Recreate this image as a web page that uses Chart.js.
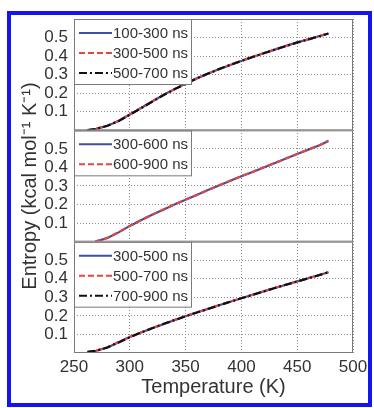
<!DOCTYPE html>
<html><head><meta charset="utf-8">
<script src="https://cdn.jsdelivr.net/npm/chart.js@4.4.1/dist/chart.umd.min.js"></script>
<style>
html,body{margin:0;padding:0;background:#fff;width:374px;height:408px;overflow:hidden}
#frame{position:absolute;left:7px;top:11px;width:357px;height:388px;border:4px solid #1414f0;}
#c{position:absolute;left:0;top:0}
</style></head><body>
<div id="frame"></div>
<canvas id="c" width="374" height="408"></canvas>
<script>
// ---- data ----
const xTicks = [250, 300, 350, 400, 450, 500];
const yTicks = [0.1, 0.2, 0.3, 0.4, 0.5];

// top panel
const tempTop = [262,270,280,290,300,310,320,330,340,350,360,370,380,390,400,410,420,430,440,450,460,470,478];
const top100_300 = [0.000,0.008,0.025,0.050,0.085,0.120,0.155,0.190,0.222,0.252,0.280,0.305,0.330,0.352,0.374,0.395,0.415,0.435,0.455,0.474,0.490,0.508,0.522];
const top300_500 = [0.000,0.009,0.026,0.051,0.086,0.121,0.156,0.190,0.221,0.251,0.279,0.305,0.329,0.352,0.375,0.396,0.416,0.436,0.455,0.473,0.491,0.508,0.521];
const top500_700 = [0.001,0.008,0.025,0.050,0.084,0.119,0.154,0.189,0.221,0.251,0.280,0.306,0.330,0.353,0.374,0.395,0.415,0.435,0.454,0.473,0.490,0.507,0.522];

// middle panel
const tempMid = [269,280,290,300,310,320,330,340,350,360,370,380,390,400,410,420,430,440,450,460,470,478];
const mid300_600 = [0.000,0.020,0.050,0.085,0.115,0.145,0.172,0.200,0.226,0.252,0.278,0.303,0.328,0.352,0.376,0.400,0.424,0.448,0.472,0.496,0.520,0.543];
const mid600_900 = [0.000,0.021,0.051,0.085,0.116,0.145,0.173,0.200,0.227,0.252,0.278,0.304,0.328,0.353,0.376,0.401,0.424,0.448,0.472,0.497,0.520,0.544];

// bottom panel
const tempBot = [262,270,280,290,300,310,320,330,340,350,360,370,380,390,400,410,420,430,440,450,460,470,478];
const bot300_500 = [0.005,0.012,0.030,0.058,0.086,0.110,0.133,0.155,0.177,0.198,0.218,0.238,0.257,0.276,0.295,0.314,0.332,0.350,0.368,0.386,0.403,0.420,0.435];
const bot500_700 = [0.004,0.013,0.031,0.059,0.087,0.111,0.134,0.156,0.178,0.199,0.219,0.238,0.258,0.277,0.296,0.314,0.333,0.351,0.369,0.386,0.404,0.421,0.436];
const bot700_900 = [0.006,0.012,0.030,0.057,0.085,0.110,0.133,0.156,0.177,0.198,0.218,0.237,0.257,0.276,0.295,0.313,0.332,0.350,0.368,0.385,0.403,0.420,0.435];

const labelsTop = ['100-300 ns', '300-500 ns', '500-700 ns'];
const labelsMid = ['300-600 ns', '600-900 ns'];
const labelsBot = ['300-500 ns', '500-700 ns', '700-900 ns'];

// ---- styles ----
const BLUE = '#3d4fa6', RED = '#e5453f', BLACK = '#111111';
const styles = [
  {color: BLUE, dash: []},
  {color: RED, dash: [6, 3]},
  {color: BLACK, dash: [8, 3, 2, 3]}
];
const FONT = '"Liberation Sans", Arial, Helvetica, sans-serif';
const GRID = '#8c8c8c';

function ds(label, temps, vals, axis, styleIdx, order) {
  const st = styles[styleIdx];
  return {
    label, yAxisID: axis,
    data: temps.map((t, i) => ({x: t, y: vals[i]})),
    borderColor: st.color, borderDash: st.dash, borderWidth: 2.2,
    pointRadius: 0, fill: false, tension: 0, order
  };
}

const datasets = [
  ds(labelsTop[0], tempTop, top100_300, 'yTop', 0, 2),
  ds(labelsTop[1], tempTop, top300_500, 'yTop', 1, 1),
  ds(labelsTop[2], tempTop, top500_700, 'yTop', 2, 0),
  ds(labelsMid[0], tempMid, mid300_600, 'yMid', 0, 1),
  ds(labelsMid[1], tempMid, mid600_900, 'yMid', 1, 0),
  ds(labelsBot[0], tempBot, bot300_500, 'yBot', 0, 2),
  ds(labelsBot[1], tempBot, bot500_700, 'yBot', 1, 1),
  ds(labelsBot[2], tempBot, bot700_900, 'yBot', 2, 0)
];

const panelLegends = [
  {axis: 'yTop', labels: labelsTop},
  {axis: 'yMid', labels: labelsMid},
  {axis: 'yBot', labels: labelsBot}
];

const panelsPlugin = {
  id: 'panels',
  afterDraw(chart) {
    const ctx = chart.ctx, ca = chart.chartArea;
    panelLegends.forEach(p => {
      const s = chart.scales[p.axis];
      const n = p.labels.length;
      const bx = ca.left, by = s.top, bw = 117, bh = 25 + 20 * (n - 1);
      ctx.save();
      ctx.fillStyle = '#ffffff';
      ctx.fillRect(bx, by, bw, bh);
      ctx.strokeStyle = '#7a7a7a'; ctx.lineWidth = 1;
      ctx.strokeRect(bx + 0.5, by + 0.5, bw, bh);
      ctx.font = '15px ' + FONT;
      ctx.textBaseline = 'middle'; ctx.textAlign = 'left';
      p.labels.forEach((lab, i) => {
        const y = by + 14 + 20 * i;
        const st = styles[i];
        ctx.beginPath();
        ctx.setLineDash(st.dash);
        ctx.strokeStyle = st.color; ctx.lineWidth = 2;
        ctx.moveTo(bx + 5, y); ctx.lineTo(bx + 38, y);
        ctx.stroke();
        ctx.setLineDash([]);
        ctx.fillStyle = '#333333';
        ctx.fillText(lab, bx + 39, y + 1);
      });
      ctx.strokeStyle = '#7a7a7a'; ctx.lineWidth = 1;
      ctx.strokeRect(ca.left + 0.5, s.top + 0.5, ca.right - ca.left - 1, s.bottom - s.top - 1);
      ctx.restore();
    });
  }
};

function yScale(withTitle) {
  return {
    type: 'linear', position: 'left', stack: 'panels', stackWeight: 1,
    min: 0, max: 0.6,
    afterBuildTicks: sc => { sc.ticks = yTicks.map(v => ({value: v})); },
    afterFit: sc => { sc.width = 74; },
    grid: {color: GRID, lineWidth: 1, drawTicks: false},
    border: {display: false, dash: [1, 2]},
    ticks: {padding: 6, color: '#333', autoSkip: false, font: {family: FONT, size: 17},
            callback: v => String(v)},
    title: {display: withTitle, text: 'Entropy (kcal mol\u207B\u00B9 K\u207B\u00B9)',
            color: '#333', font: {family: FONT, size: 20}, padding: {top: 18, bottom: 0}}
  };
}

new Chart(document.getElementById('c'), {
  type: 'line',
  data: {datasets},
  options: {
    responsive: false, animation: false, devicePixelRatio: 1,
    layout: {padding: {top: 19, right: 21, left: 0, bottom: 0}},
    plugins: {legend: {display: false}, tooltip: {enabled: false}},
    scales: {
      x: {
        type: 'linear', min: 250, max: 500,
        afterBuildTicks: sc => { sc.ticks = xTicks.map(v => ({value: v})); },
        afterFit: sc => { sc.height = 55; },
        grid: {color: GRID, lineWidth: 1, drawTicks: false},
        border: {display: false, dash: [1, 2]},
        ticks: {padding: 4, color: '#333', autoSkip: false, font: {family: FONT, size: 17}},
        title: {display: true, text: 'Temperature (K)', color: '#333',
                font: {family: FONT, size: 20}, padding: {top: 0, bottom: 9}}
      },
      // stacked axes are laid out bottom-up in definition order
      yBot: yScale(false),
      yMid: yScale(true),
      yTop: yScale(false)
    }
  },
  plugins: [panelsPlugin]
});
</script>
</body></html>
